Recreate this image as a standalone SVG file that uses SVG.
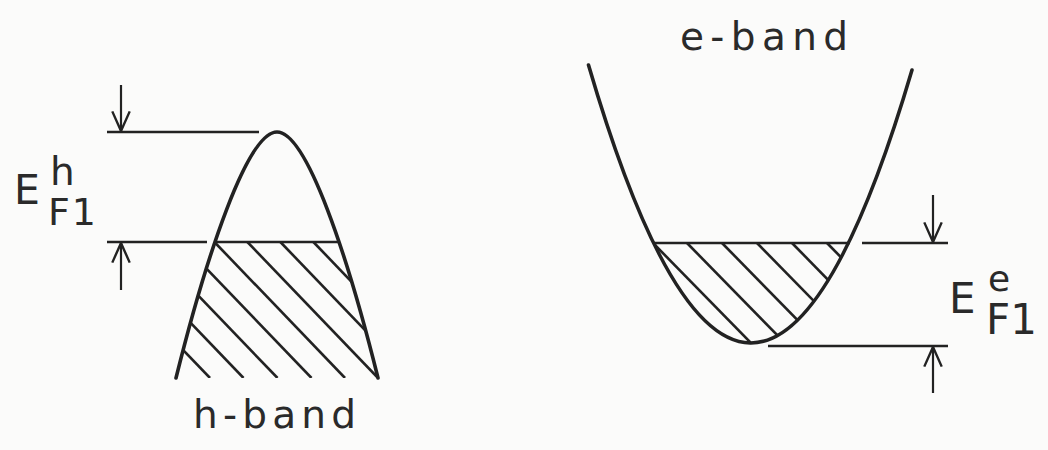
<svg xmlns="http://www.w3.org/2000/svg" width="1048" height="450" viewBox="0 0 1048 450">
  <defs>
    <marker id="arr" markerUnits="userSpaceOnUse" markerWidth="24" markerHeight="24" viewBox="-20 -10 22 20" refX="0" refY="0" orient="auto">
      <path d="M-18,-8 L0,0 L-18,8" fill="none" stroke="#222" stroke-width="2.2" stroke-linejoin="miter"/>
    </marker>
    <clipPath id="clipH">
      <path d="M176,378 C206,257.4 247,132 277,132 C307,132 348,257.4 378,378 Z"/>
    </clipPath>
    <clipPath id="clipE">
      <path d="M588.5,65 Q750.25,618.4 912,70.1 Z"/>
    </clipPath>
  </defs>
  <style>
    .curve { fill: none; stroke: #222; stroke-width: 3.6; stroke-linecap: round; }
    .lvl { fill: none; stroke: #222; stroke-width: 2.6; }
    .hatch { fill: none; stroke: #222; stroke-width: 2.6; }
    .dim { fill: none; stroke: #222; stroke-width: 2.2; }
    .lbl { font-family: "DejaVu Sans", "Liberation Sans", sans-serif; fill: #2a2a2a; }
  </style>
  <rect width="1048" height="450" fill="#fbfbfa"/>

  <g id="h-band">
    <path class="curve" d="M176,378 C206,257.4 247,132 277,132 C307,132 348,257.4 378,378"/>
    <line class="lvl" x1="215" y1="242" x2="339" y2="242"/>
    <g clip-path="url(#clipH)">
      <line class="hatch" x1="79.4" y1="242" x2="210" y2="378"/>
      <line class="hatch" x1="112.9" y1="242" x2="243.5" y2="378"/>
      <line class="hatch" x1="146.9" y1="242" x2="277.5" y2="378"/>
      <line class="hatch" x1="180.9" y1="242" x2="311.5" y2="378"/>
      <line class="hatch" x1="214.4" y1="242" x2="345" y2="378"/>
      <line class="hatch" x1="247.4" y1="242" x2="378" y2="378"/>
      <line class="hatch" x1="280.4" y1="242" x2="411" y2="378"/>
      <line class="hatch" x1="313.4" y1="242" x2="444" y2="378"/>
    </g>
    <text class="lbl" x="193" y="428" font-size="39" textLength="163" lengthAdjust="spacing">h-band</text>
  </g>

  <g id="e-band">
    <path class="curve" d="M588.5,65 Q750.25,618.4 912,70.1"/>
    <line class="lvl" x1="654" y1="243" x2="850" y2="243"/>
    <g clip-path="url(#clipE)">
      <line class="hatch" x1="653" y1="243" x2="760.8" y2="353"/>
      <line class="hatch" x1="687" y1="243" x2="794.8" y2="353"/>
      <line class="hatch" x1="722" y1="243" x2="829.8" y2="353"/>
      <line class="hatch" x1="757" y1="243" x2="864.8" y2="353"/>
      <line class="hatch" x1="792" y1="243" x2="899.8" y2="353"/>
      <line class="hatch" x1="827" y1="243" x2="934.8" y2="353"/>
    </g>
    <text class="lbl" x="680" y="50" font-size="39" textLength="168" lengthAdjust="spacing">e-band</text>
  </g>

  <g id="EFh-label">
    <line class="lvl" x1="107" y1="132" x2="259" y2="132"/>
    <line class="lvl" x1="107" y1="242" x2="207" y2="242"/>
    <text class="lbl" x="14" y="204" font-size="41">E</text>
    <text class="lbl" x="50" y="185" font-size="39">h</text>
    <text class="lbl" x="48" y="225" font-size="38" letter-spacing="2">F1</text>
  </g>

  <g id="EFe-label">
    <line class="lvl" x1="862" y1="243" x2="948" y2="243"/>
    <line class="lvl" x1="768" y1="346" x2="948" y2="346"/>
    <text class="lbl" x="949" y="313" font-size="42">E</text>
    <text class="lbl" x="988" y="291" font-size="36">e</text>
    <text class="lbl" x="986" y="334" font-size="42">F1</text>
  </g>

  <g id="connectors">
    <line class="dim" x1="121" y1="85" x2="121" y2="131" marker-end="url(#arr)"/>
    <line class="dim" x1="121" y1="290" x2="121" y2="243" marker-end="url(#arr)"/>
    <line class="dim" x1="933" y1="195" x2="933" y2="242" marker-end="url(#arr)"/>
    <line class="dim" x1="933" y1="393" x2="933" y2="347" marker-end="url(#arr)"/>
  </g>
</svg>
